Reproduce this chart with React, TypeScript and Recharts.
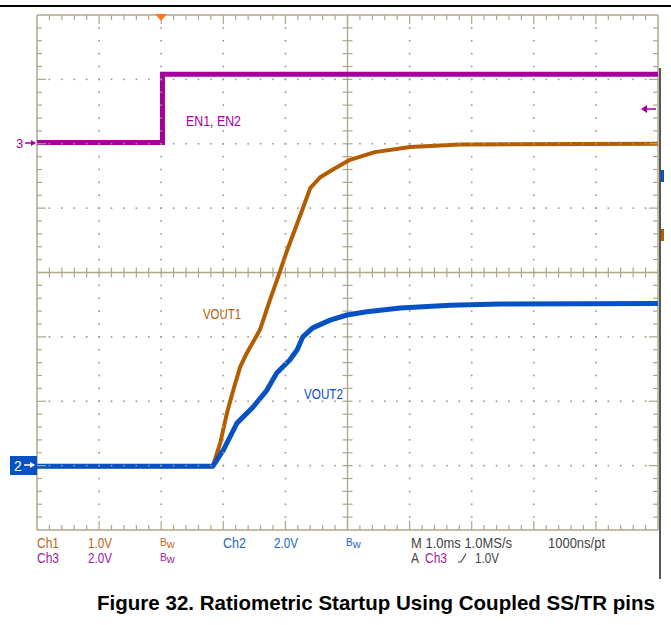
import { ComposedChart, Line, Scatter, XAxis, YAxis, ReferenceLine } from 'recharts';

// scope screen: 10 horizontal divisions (1 ms/div), 8 vertical divisions
const enTime = [0, 2.02, 2.02, 10];
const enLevel = [6.02, 6.02, 7.08, 7.08];

const vout1Time = [0, 2.83, 2.95, 3.06, 3.16, 3.27, 3.38, 3.59, 3.75, 3.91, 4.03, 4.24, 4.4, 4.56, 4.8, 5.04, 5.44, 6.01, 6.81, 10];
const vout1Level = [0.99, 0.99, 1.35, 1.82, 2.17, 2.53, 2.75, 3.11, 3.57, 4.01, 4.35, 4.89, 5.31, 5.48, 5.62, 5.75, 5.87, 5.95, 5.99, 6.0];

const vout2Time = [0, 2.83, 3.0, 3.22, 3.48, 3.7, 3.86, 4.07, 4.19, 4.28, 4.44, 4.72, 4.99, 5.31, 5.85, 6.65, 7.46, 10];
const vout2Level = [0.99, 0.99, 1.24, 1.66, 1.91, 2.17, 2.44, 2.64, 2.8, 3.0, 3.14, 3.26, 3.34, 3.39, 3.45, 3.49, 3.51, 3.52];

const row1Labels = ['Ch1', '1.0V', 'Ch2', '2.0V', 'M 1.0ms 1.0MS/s', '1000ns/pt'];
const row2Labels = ['Ch3', '2.0V', 'A', 'Ch3', '1.0V'];
const caption = 'Figure 32. Ratiometric Startup Using Coupled SS/TR pins';

const GRID = '#aca78c';
const DOT = '#9d987e';
const MAGENTA = '#a3009e';
const BROWN = '#b35c00';
const BLUE = '#0652c4';
const TXT_BROWN = '#b8661a';
const TXT_BLUE = '#2266c8';
const TXT_MAG = '#a020a0';
const TXT_GRAY = '#444';
const FONT = "'Liberation Sans', Arial, sans-serif";

const zip = (ts: number[], vs: number[]) => ts.map((t, i) => ({ t, v: vs[i] }));

const xMinor = Array.from({ length: 51 }, (_, i) => i / 5);
const yMinor = Array.from({ length: 41 }, (_, i) => i / 5);
const isMajor = (n: number) => Math.abs(n - Math.round(n)) < 1e-6;

const topTicks = xMinor.filter((t) => t > 0 && t < 10).map((t) => ({ t, v: 8, major: isMajor(t) }));
const bottomTicks = xMinor.filter((t) => t > 0 && t < 10).map((t) => ({ t, v: 0, major: isMajor(t) }));
const leftTicks = yMinor.filter((v) => v > 0 && v < 8).map((v) => ({ t: 0, v, major: isMajor(v) }));
const rightTicks = yMinor.filter((v) => v > 0 && v < 8).map((v) => ({ t: 10, v, major: isMajor(v) }));
const centerHTicks = xMinor.filter((t) => t > 0 && t < 10).map((t) => ({ t, v: 4 }));
const centerVTicks = yMinor.filter((v) => v > 0 && v < 8).map((v) => ({ t: 5, v }));

const gridDots = [
  ...[1, 2, 3, 4, 6, 7, 8, 9].flatMap((t) => yMinor.filter((v) => v > 0 && v < 8).map((v) => ({ t, v }))),
  ...[1, 2, 3, 5, 6, 7].flatMap((v) => xMinor.filter((t) => t > 0 && t < 10).map((t) => ({ t, v }))),
];

const tickShape = (dir: string) => (p: any) => {
  const { cx, cy, payload } = p;
  const len = payload && payload.major ? 9 : 5;
  let c = { x1: cx, y1: cy, x2: cx, y2: cy };
  if (dir === 'down') c = { x1: cx, y1: cy, x2: cx, y2: cy + len };
  if (dir === 'up') c = { x1: cx, y1: cy, x2: cx, y2: cy - len };
  if (dir === 'right') c = { x1: cx, y1: cy, x2: cx + len, y2: cy };
  if (dir === 'left') c = { x1: cx, y1: cy, x2: cx - len, y2: cy };
  if (dir === 'v') c = { x1: cx, y1: cy - 5, x2: cx, y2: cy + 5 };
  if (dir === 'h') c = { x1: cx - 5, y1: cy, x2: cx + 5, y2: cy };
  return <line {...c} stroke={GRID} strokeWidth={1.2} />;
};

const dotShape = (p: any) => <rect x={p.cx - 0.8} y={p.cy - 0.8} width={1.6} height={1.6} fill={DOT} />;

function Bw({ x, y, color }: { x: number; y: number; color: string }) {
  return (
    <text x={x} y={y} fill={color} fontFamily={FONT}>
      <tspan fontSize={10} dy={-2}>B</tspan>
      <tspan fontSize={11} dy={2}>w</tspan>
    </text>
  );
}

export default function App() {
  return (
    <div style={{ position: 'absolute', left: 0, top: 0, width: 671, height: 625, background: '#fff' }}>
      <ComposedChart width={671} height={625} margin={{ top: 15, right: 13, bottom: 95, left: 37 }}>
        <XAxis type="number" dataKey="t" domain={[0, 10]} allowDataOverflow hide />
        <YAxis type="number" dataKey="v" domain={[0, 8]} allowDataOverflow hide />
        <ReferenceLine x={0} stroke={GRID} strokeWidth={1.5} />
        <ReferenceLine x={10} stroke={GRID} strokeWidth={1.5} />
        <ReferenceLine y={0} stroke={GRID} strokeWidth={1.5} />
        <ReferenceLine y={8} stroke={GRID} strokeWidth={1.5} />
        <ReferenceLine x={5} stroke={GRID} strokeWidth={1.3} />
        <ReferenceLine y={4} stroke={GRID} strokeWidth={1.3} />
        <Scatter data={gridDots} shape={dotShape} isAnimationActive={false} />
        <Scatter data={topTicks} shape={tickShape('down')} isAnimationActive={false} />
        <Scatter data={bottomTicks} shape={tickShape('up')} isAnimationActive={false} />
        <Scatter data={leftTicks} shape={tickShape('right')} isAnimationActive={false} />
        <Scatter data={rightTicks} shape={tickShape('left')} isAnimationActive={false} />
        <Scatter data={centerHTicks} shape={tickShape('v')} isAnimationActive={false} />
        <Scatter data={centerVTicks} shape={tickShape('h')} isAnimationActive={false} />
        <Line data={zip(enTime, enLevel)} dataKey="v" type="linear" stroke={MAGENTA} strokeWidth={5} dot={false} isAnimationActive={false} />
        <Line data={zip(vout1Time, vout1Level)} dataKey="v" type="linear" stroke={BROWN} strokeWidth={4} dot={false} strokeLinejoin="round" isAnimationActive={false} />
        <Line data={zip(vout2Time, vout2Level)} dataKey="v" type="linear" stroke={BLUE} strokeWidth={5} dot={false} strokeLinejoin="round" isAnimationActive={false} />
      </ComposedChart>
      <svg width={671} height={625} style={{ position: 'absolute', left: 0, top: 0, pointerEvents: 'none' }}>
        <rect x={0} y={5} width={671} height={2} fill="#000" />
        <rect x={659} y={68} width={2} height={511} fill="#555" />
        <polygon points="155,14 167,14 161,21" fill="#ff7a1f" />
        {/* channel markers */}
        <text x={16} y={148} fill={MAGENTA} fontSize={13} fontFamily={FONT}>3</text>
        <line x1={25} y1={143} x2={35} y2={143} stroke={MAGENTA} strokeWidth={1.5} />
        <polygon points="36,143 31,140 31,146" fill={MAGENTA} />
        <rect x={10} y={456} width={27} height={19} fill={BLUE} />
        <text x={14} y={471} fill="#fff" fontSize={14} fontFamily={FONT}>2</text>
        <line x1={24} y1={465} x2={34} y2={465} stroke="#fff" strokeWidth={1.5} />
        <polygon points="35,465 30,462 30,468" fill="#fff" />
        <line x1={645} y1={109} x2={656} y2={109} stroke={MAGENTA} strokeWidth={1.5} />
        <polygon points="641,109 647,105 647,113" fill={MAGENTA} />
        <rect x={661} y={170} width={3} height={12} fill={BLUE} />
        <rect x={661} y={229} width={3} height={12} fill={BROWN} />
        {/* trace labels */}
        <text x={186} y={126} fill={MAGENTA} fontSize={14} fontFamily={FONT} textLength={55} lengthAdjust="spacingAndGlyphs">EN1, EN2</text>
        <text x={203} y={319} fill={BROWN} fontSize={14} fontFamily={FONT} textLength={38} lengthAdjust="spacingAndGlyphs">VOUT1</text>
        <text x={304} y={399} fill={BLUE} fontSize={14} fontFamily={FONT} textLength={39} lengthAdjust="spacingAndGlyphs">VOUT2</text>
        {/* status rows */}
        <g fontSize={14} fontFamily={FONT}>
          <text x={37} y={548} fill={TXT_BROWN} textLength={22} lengthAdjust="spacingAndGlyphs">{row1Labels[0]}</text>
          <text x={88} y={548} fill={TXT_BROWN} textLength={24} lengthAdjust="spacingAndGlyphs">{row1Labels[1]}</text>
          <Bw x={160} y={548} color={TXT_BROWN} />
          <text x={223} y={548} fill={TXT_BLUE} textLength={23} lengthAdjust="spacingAndGlyphs">{row1Labels[2]}</text>
          <text x={274} y={548} fill={TXT_BLUE} textLength={24} lengthAdjust="spacingAndGlyphs">{row1Labels[3]}</text>
          <Bw x={346} y={548} color={TXT_BLUE} />
          <text x={411} y={548} fill={TXT_GRAY} textLength={101} lengthAdjust="spacingAndGlyphs">{row1Labels[4]}</text>
          <text x={548} y={548} fill={TXT_GRAY} textLength={57} lengthAdjust="spacingAndGlyphs">{row1Labels[5]}</text>
          <text x={37} y={563} fill={TXT_MAG} textLength={22} lengthAdjust="spacingAndGlyphs">{row2Labels[0]}</text>
          <text x={88} y={563} fill={TXT_MAG} textLength={24} lengthAdjust="spacingAndGlyphs">{row2Labels[1]}</text>
          <Bw x={160} y={563} color={TXT_MAG} />
          <text x={411} y={563} fill={TXT_GRAY} textLength={8} lengthAdjust="spacingAndGlyphs">{row2Labels[2]}</text>
          <text x={425} y={563} fill={TXT_MAG} textLength={22} lengthAdjust="spacingAndGlyphs">{row2Labels[3]}</text>
          <path d="M458,562 L461,562 L466,554" stroke={TXT_GRAY} strokeWidth={1.2} fill="none" />
          <text x={475} y={563} fill={TXT_GRAY} textLength={24} lengthAdjust="spacingAndGlyphs">{row2Labels[4]}</text>
        </g>
        <text x={97} y={610} fill="#000" fontSize={21} fontWeight="bold" fontFamily={FONT} textLength={558} lengthAdjust="spacingAndGlyphs">{caption}</text>
      </svg>
    </div>
  );
}
